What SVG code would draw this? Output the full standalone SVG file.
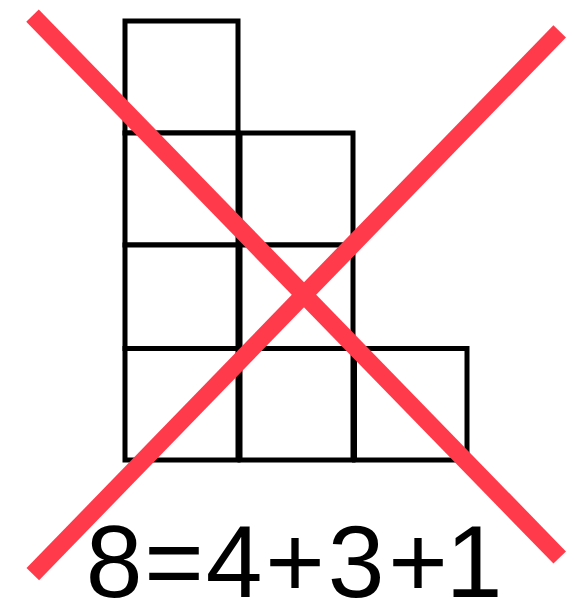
<svg xmlns="http://www.w3.org/2000/svg" width="574" height="601" viewBox="0 0 574 601">
<style>
.box{fill:#fff;stroke:#000;stroke-width:5}
.cross{stroke:#FF3B4B;stroke-width:17.5;stroke-linecap:butt}
.lbl{font-family:"Liberation Sans",Arial,sans-serif;font-size:102px;fill:#000}
</style>
<rect width="574" height="601" fill="#fff"/>
<g id="boxes">
<g id="c1r1"><rect class="box" x="125" y="21" width="113" height="112"/></g>
<g id="c1r2"><rect class="box" x="125" y="133" width="113" height="112"/></g>
<g id="c1r3"><rect class="box" x="125" y="245" width="113" height="103.5"/></g>
<g id="c1r4"><rect class="box" x="125" y="348.5" width="113" height="111.5"/></g>
<g id="c2r2"><rect class="box" x="240" y="133" width="113" height="112"/></g>
<g id="c2r3"><rect class="box" x="240" y="245" width="113" height="103.5"/></g>
<g id="c2r4"><rect class="box" x="240" y="348.5" width="113" height="111.5"/></g>
<g id="c3r4"><rect class="box" x="354.5" y="348.5" width="112.5" height="111.5"/></g>
</g>
<g id="label"><text class="lbl" x="114 174 234 295 356 418 474" y="597" text-anchor="middle">8=4+3+1</text></g>
<g id="cross">
<line class="cross" x1="32.5" y1="15.7" x2="559.7" y2="557.5"/>
<line class="cross" x1="559.7" y1="31.3" x2="32.8" y2="574.2"/>
</g>
</svg>
